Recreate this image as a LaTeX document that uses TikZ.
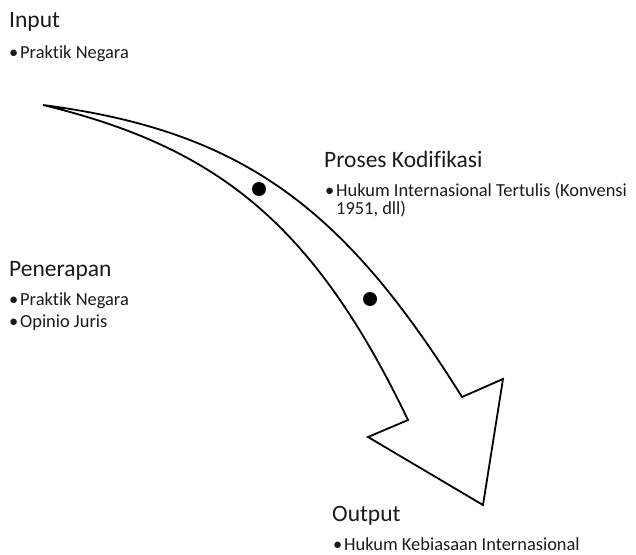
\documentclass[tikz,border=0pt]{standalone}
\usepackage{fontspec}
\setmainfont{Carlito}[Ligatures={NoCommon}]
\newcommand{\bul}{\llap{\textbullet\hspace{2pt}}}

\begin{document}
\begin{tikzpicture}[x=1pt,y=-1pt,
  heading/.style={anchor=base west,inner sep=0pt,font=\fontsize{23.5}{27}\selectfont,text=inkgray},
  item/.style={anchor=base west,inner sep=0pt,font=\fontsize{18.4}{21}\selectfont,text=inkgray},
  dot/.style={circle,fill=black,inner sep=0pt,minimum size=14}]
\definecolor{inkgray}{HTML}{1A1A1A}
\useasboundingbox (0,0) rectangle (636,554);
\draw[line width=1.8pt] (43,105) .. controls (243,131) and (344,208) .. (462,397)
  -- (503,379) -- (483,505) -- (368,437) -- (408,420)
  .. controls (313,222) and (216,147) .. cycle;
\node[dot] (dot1) at (259,189) {};
\node[dot] (dot2) at (370,299) {};
  \foreach \name/\x/\y/\txt in {input/9/27/Input,proses/324/167/Proses Kodifikasi,
    penerapan/9/276/Penerapan,output/332/521/Output}
  {  \node[heading] (\name) at (\x,\y) {\txt};}
  \foreach \name/\x/\y/\txt in {input-1/20/58/Praktik Negara,
    proses-1/336/196/Hukum Internasional Tertulis (Konvensi,
    penerapan-1/20/305/Praktik Negara,penerapan-2/20/327/Opinio Juris,
    output-1/344/550/Hukum Kebiasaan Internasional}
  {  \node[item] (\name) at (\x,\y) {\bul\txt};}
\node[item] (proses-2) at (336,214) {1951, dll)};
\end{tikzpicture}
\end{document}
